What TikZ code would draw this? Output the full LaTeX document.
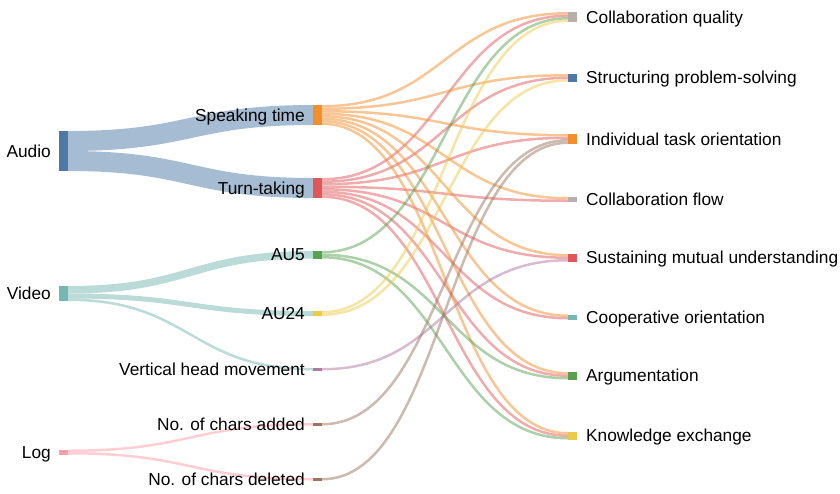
\documentclass[tikz,border=0pt]{standalone}
\usepackage{fontspec}
\setmainfont{Liberation Sans}
\usetikzlibrary{positioning}
\definecolor{tabblue}{HTML}{4E79A7}
\definecolor{taborange}{HTML}{F28E2C}
\definecolor{tabred}{HTML}{E15759}
\definecolor{tabteal}{HTML}{76B7B2}
\definecolor{tabgreen}{HTML}{59A14F}
\definecolor{tabyellow}{HTML}{EDC949}
\definecolor{tabpurple}{HTML}{AF7AA1}
\definecolor{tabpink}{HTML}{FF9DA7}
\definecolor{tabbrown}{HTML}{9C755F}
\definecolor{tabgray}{HTML}{BAB0AB}
\newcommand\sankeylink[6]{%
  \draw[#1, line width=#2pt, opacity=0.5] ([yshift=-#4pt]#3.north east)
    .. controls +(123,0) and +(-123,0) .. ([yshift=-#6pt]#5.north west);}

\begin{document}
\begin{tikzpicture}[x=1pt, y=-1pt,
    bar/.style={fill=#1, minimum width=9pt, inner sep=0pt, outer sep=0pt, anchor=north west},
    lbl/.style={font=\fontsize{17.3}{20}\selectfont, inner sep=0pt, text=black}]
        \useasboundingbox (0,0) rectangle (840,493);
        \node[bar=tabblue, minimum height=40pt] (audio) at (59,131) {};
        \node[bar=tabteal, minimum height=15pt] (video) at (59,286) {};
        \node[bar=tabpink, minimum height=5pt] (log) at (59,449.5) {};
        \node[bar=taborange, minimum height=20pt] (st) at (313,105) {};
        \node[bar=tabred, minimum height=20pt] (tt) at (313,178) {};
        \node[bar=tabgreen, minimum height=7.5pt] (au5) at (313,251) {};
        \node[bar=tabyellow, minimum height=5pt] (au24) at (313,311) {};
        \node[bar=tabpurple, minimum height=2.5pt] (vhm) at (313,368) {};
        \node[bar=tabbrown, minimum height=2.5pt] (cadd) at (313,423) {};
        \node[bar=tabbrown, minimum height=2.5pt] (cdel) at (313,478) {};
        \node[bar=tabgray, minimum height=10pt] (cq) at (568,12) {};
        \node[bar=tabblue, minimum height=7.5pt] (sp) at (568,74) {};
        \node[bar=taborange, minimum height=10pt] (ito) at (568,134) {};
        \node[bar=tabgray, minimum height=5pt] (cf) at (568,197) {};
        \node[bar=tabred, minimum height=7.5pt] (smu) at (568,254) {};
        \node[bar=tabteal, minimum height=5pt] (co) at (568,314.5) {};
        \node[bar=tabgreen, minimum height=7.5pt] (arg) at (568,372) {};
        \node[bar=tabyellow, minimum height=7.5pt] (ke) at (568,432) {};
        \sankeylink{tabblue}{20}{audio}{10}{st}{10}
        \sankeylink{tabblue}{20}{audio}{30}{tt}{10}
        \sankeylink{tabteal}{7.5}{video}{3.75}{au5}{3.75}
        \sankeylink{tabteal}{5}{video}{10}{au24}{2.5}
        \sankeylink{tabteal}{2.5}{video}{13.75}{vhm}{1.25}
        \sankeylink{tabpink}{2.5}{log}{1.25}{cadd}{1.25}
        \sankeylink{tabpink}{2.5}{log}{3.75}{cdel}{1.25}
        \foreach \t [count=\k] in {cq,sp,ito,cf,smu,co,arg,ke}{
            \pgfmathsetmacro\so{2.5*\k-1.25}
            \sankeylink{taborange}{2.5}{st}{\so}{\t}{1.25}
            \sankeylink{tabred}{2.5}{tt}{\so}{\t}{3.75}
        }
        \sankeylink{tabgreen}{2.5}{au5}{1.25}{cq}{6.25}
        \sankeylink{tabgreen}{2.5}{au5}{3.75}{arg}{6.25}
        \sankeylink{tabgreen}{2.5}{au5}{6.25}{ke}{6.25}
        \sankeylink{tabyellow}{2.5}{au24}{1.25}{cq}{8.75}
        \sankeylink{tabyellow}{2.5}{au24}{3.75}{sp}{6.25}
        \sankeylink{tabpurple}{2.5}{vhm}{1.25}{smu}{6.25}
        \sankeylink{tabbrown}{2.5}{cadd}{1.25}{ito}{6.25}
        \sankeylink{tabbrown}{2.5}{cdel}{1.25}{ito}{8.75}
        \foreach \n/\t in {audio/Audio, video/Video, log/Log, st/Speaking time, tt/Turn-taking, au5/AU5, au24/AU24, vhm/Vertical head movement, cadd/No. of chars added, cdel/No. of chars deleted}{
            \node[lbl, base left=8pt of \n, yshift=-6pt] (\n-l) {\t};
        }
        \foreach \n/\t in {cq/Collaboration quality, sp/Structuring problem-solving, ito/Individual task orientation, cf/Collaboration flow, smu/Sustaining mutual understanding, co/Cooperative orientation, arg/Argumentation, ke/Knowledge exchange}{
            \node[lbl, base right=9pt of \n, yshift=-6pt] (\n-l) {\t};
        }
    \end{tikzpicture}
\end{document}
